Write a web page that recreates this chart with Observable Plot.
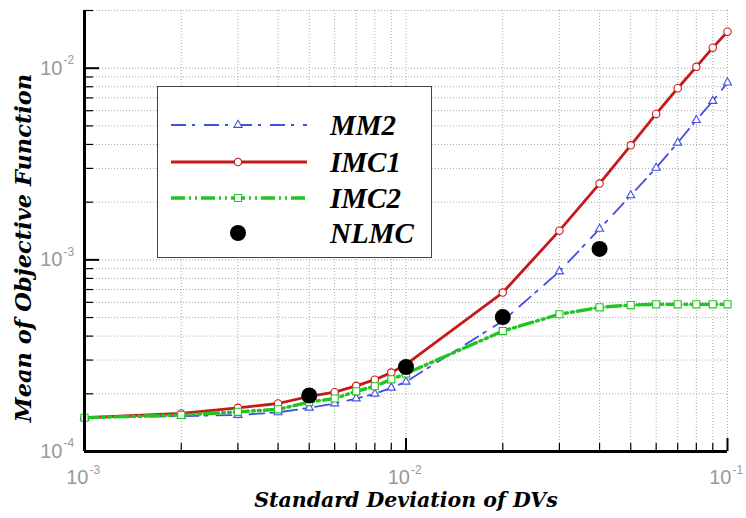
<!DOCTYPE html>
<html><head><meta charset="utf-8">
<script src="https://cdn.jsdelivr.net/npm/d3@7"></script>
<script src="https://cdn.jsdelivr.net/npm/@observablehq/plot@0.6"></script>
<style>
body{margin:0;background:#fff;}
#wrap{width:746px;height:518px;}
</style></head><body><div id="wrap"></div>
<script>
// ---- data ----
const sd = [0.001,0.002,0.003,0.004,0.005,0.006,0.007,0.008,0.009,0.01,0.02,0.03,0.04,0.05,0.06,0.07,0.08,0.09,0.1];
const mm2 = [1.50e-4,1.53e-4,1.55e-4,1.60e-4,1.69e-4,1.78e-4,1.89e-4,2.00e-4,2.15e-4,2.31e-4,4.8e-4,8.69e-4,1.45e-3,2.17e-3,3.02e-3,4.08e-3,5.36e-3,6.74e-3,8.41e-3];
const imc1 = [1.50e-4,1.58e-4,1.69e-4,1.78e-4,1.94e-4,2.04e-4,2.20e-4,2.37e-4,2.58e-4,2.85e-4,6.75e-4,1.42e-3,2.50e-3,3.96e-3,5.77e-3,7.86e-3,1.016e-2,1.28e-2,1.55e-2];
const imc2 = [1.50e-4,1.55e-4,1.61e-4,1.66e-4,1.81e-4,1.89e-4,2.06e-4,2.19e-4,2.38e-4,2.55e-4,4.25e-4,5.20e-4,5.65e-4,5.81e-4,5.86e-4,5.86e-4,5.86e-4,5.86e-4,5.86e-4];
const nlmcSd = [0.005,0.01,0.02,0.04];
const nlmc = [1.96e-4,2.76e-4,5.03e-4,1.14e-3];

const seriesNames = ["MM2","IMC1","IMC2","NLMC"];
const xTitle = "Standard Deviation of DVs";
const yTitle = "Mean of Objective Function";

const xMajor = [1e-3,1e-2,1e-1];
const xMajorExp = ["-3","-2","-1"];
const xMinor = [0.002,0.003,0.004,0.005,0.006,0.007,0.008,0.009,0.02,0.03,0.04,0.05,0.06,0.07,0.08,0.09];
const yMajor = [1e-4,1e-3,1e-2];
const yMajorExp = ["-4","-3","-2"];
const yMinor = [2e-4,3e-4,4e-4,5e-4,6e-4,7e-4,8e-4,9e-4,2e-3,3e-3,4e-3,5e-3,6e-3,7e-3,8e-3,9e-3,2e-2];

// ---- styles ----
const BLUE = "#4050e0", RED = "#c81818", GREEN = "#22c422";
const GRID = "#a8a8a8", LABEL = "#999999";
const dashBlue = "15,6,3,9", dashGreen = "14,4,2,4,2,4";

const rows = vals => sd.map((x,i) => ({x, v: vals[i]}));
const mm2Rows = rows(mm2), imc1Rows = rows(imc1), imc2Rows = rows(imc2);
const nlmcRows = nlmcSd.map((x,i) => ({x, v: nlmc[i]}));

const W = 746, H = 518, ML = 84, MR = 19, MT = 10, MB = 67;
const PW = W - ML - MR, PH = H - MT - MB;
const sans = "Liberation Sans, Arial, sans-serif";
const titleFont = "DejaVu Serif, serif";

const plot = Plot.plot({
  width: W, height: H,
  marginLeft: ML, marginRight: MR, marginTop: MT, marginBottom: MB,
  x: {type: "log", domain: [1e-3, 1e-1], axis: null},
  y: {type: "log", domain: [1e-4, 2e-2], axis: null},
  marks: [
    Plot.gridX(xMajor.concat(xMinor), {stroke: GRID, strokeOpacity: 1, strokeDasharray: "1,2"}),
    Plot.gridY(yMajor.concat(yMinor), {stroke: GRID, strokeOpacity: 1, strokeDasharray: "1,2"}),
    Plot.line(mm2Rows, {x: "x", y: "v", stroke: BLUE, strokeWidth: 1.8, strokeDasharray: dashBlue}),
    Plot.dot(mm2Rows, {x: "x", y: "v", symbol: "triangle", r: 3, stroke: BLUE, fill: "white", strokeWidth: 1.1}),
    Plot.line(imc1Rows, {x: "x", y: "v", stroke: RED, strokeWidth: 2.8}),
    Plot.dot(imc1Rows, {x: "x", y: "v", r: 3.7, stroke: RED, fill: "white", strokeWidth: 1.1}),
    Plot.line(imc2Rows, {x: "x", y: "v", stroke: GREEN, strokeWidth: 3.4, strokeDasharray: dashGreen}),
    Plot.dot(imc2Rows, {x: "x", y: "v", symbol: "square", r: 4, stroke: GREEN, fill: "white", strokeWidth: 1.1}),
    Plot.dot(nlmcRows, {x: "x", y: "v", r: 8, fill: "black"}),
    Plot.ruleX([1e-3], {stroke: "black", strokeWidth: 3}),
    Plot.ruleY([1e-4], {stroke: "black", strokeWidth: 3}),
    Plot.tickX(xMajor, {x: d => d, stroke: "black", strokeWidth: 2, insetTop: PH - 13}),
    Plot.tickX(xMinor, {x: d => d, stroke: "black", strokeWidth: 1.2, insetTop: PH - 8}),
    Plot.tickY(yMajor, {y: d => d, stroke: "black", strokeWidth: 2, insetRight: PW - 15}),
    Plot.tickY(yMinor, {y: d => d, stroke: "black", strokeWidth: 1.2, insetRight: PW - 9}),
    // tick labels
    Plot.text(yMajor, {y: d => d, frameAnchor: "left", text: () => "10", textAnchor: "end", dx: -22, lineAnchor: "middle", fontSize: 20, fontFamily: sans, fill: LABEL}),
    Plot.text(yMajor, {y: d => d, frameAnchor: "left", text: (d, i) => yMajorExp[i], textAnchor: "start", dx: -21, dy: -8, lineAnchor: "middle", fontSize: 12, fontFamily: sans, fill: LABEL}),
    Plot.text(xMajor, {x: d => d, frameAnchor: "bottom", text: () => "10", textAnchor: "end", dx: 4, dy: 32, lineAnchor: "bottom", fontSize: 20, fontFamily: sans, fill: LABEL}),
    Plot.text(xMajor, {x: d => d, frameAnchor: "bottom", text: (d, i) => xMajorExp[i], textAnchor: "start", dx: 5, dy: 22, lineAnchor: "bottom", fontSize: 12, fontFamily: sans, fill: LABEL}),
    // axis titles
    Plot.text([xTitle], {frameAnchor: "bottom", text: d => d, textAnchor: "middle", dy: 55, lineAnchor: "bottom", fontSize: 20.5, fontFamily: titleFont, fontWeight: "bold", fontStyle: "italic", fill: "black"}),
    Plot.text([yTitle], {frameAnchor: "left", text: d => d, textAnchor: "middle", rotate: -90, dx: -61, dy: 17, lineAnchor: "middle", fontSize: 22.5, fontFamily: titleFont, fontWeight: "bold", fontStyle: "italic", fill: "black"})
  ]
});

// ---- legend (chrome) ----
const svg = d3.select(plot);
const lg = svg.append("g").attr("class", "legend");
lg.append("rect").attr("x", 157.5).attr("y", 86.5).attr("width", 274).attr("height", 171)
  .attr("fill", "white").attr("stroke", "#444").attr("stroke-width", 1);
const entries = [
  {name: seriesNames[0], y: 125, stroke: BLUE, width: 1.8, dash: dashBlue, sym: "triangle"},
  {name: seriesNames[1], y: 162, stroke: RED, width: 2.8, dash: null, sym: "circle"},
  {name: seriesNames[2], y: 198, stroke: GREEN, width: 3.4, dash: dashGreen, sym: "square"},
  {name: seriesNames[3], y: 233, stroke: null, sym: "dot"}
];
const symbolOf = {triangle: [d3.symbolTriangle, Math.PI * 9], circle: [d3.symbolCircle, Math.PI * 3.7 * 3.7], square: [d3.symbolSquare, Math.PI * 16]};
entries.forEach(e => {
  if (e.stroke) {
    lg.append("line").attr("x1", 171).attr("x2", 307).attr("y1", e.y).attr("y2", e.y)
      .attr("stroke", e.stroke).attr("stroke-width", e.width).attr("stroke-dasharray", e.dash);
    const [type, size] = symbolOf[e.sym];
    lg.append("path").attr("d", d3.symbol(type, size)()).attr("transform", `translate(238,${e.y})`)
      .attr("fill", "white").attr("stroke", e.stroke).attr("stroke-width", 1.1);
  } else {
    lg.append("circle").attr("cx", 238).attr("cy", e.y).attr("r", 8).attr("fill", "black");
  }
  lg.append("text").attr("x", 330).attr("y", e.y + 10).text(e.name)
    .attr("text-anchor", "start")
    .attr("font-family", "Liberation Serif, Times New Roman, serif").attr("font-weight", "bold")
    .attr("font-style", "italic").attr("font-size", 29).attr("fill", "black");
});

document.getElementById("wrap").appendChild(plot);
</script>
</body></html>
